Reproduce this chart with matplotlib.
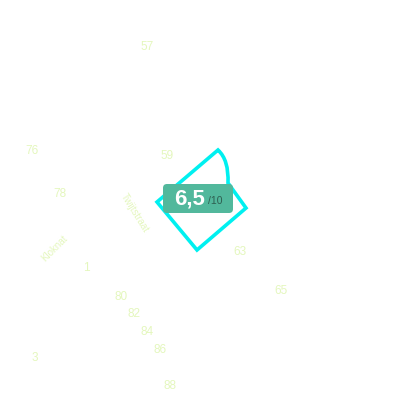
import matplotlib
matplotlib.use("Agg")
import matplotlib.pyplot as plt
from matplotlib.patches import FancyBboxPatch
from matplotlib.path import Path
from matplotlib.patches import PathPatch

# house number labels (text, x, y) in pixel space
numbers = ["57", "76", "78", "59", "63", "65", "80", "82", "84", "86", "88", "3", "1"]
num_x = [147, 32, 60, 167, 240, 281, 121, 134, 147, 160, 170, 35, 86]
num_y = [47, 151, 194, 156, 252, 291, 297, 314, 332, 350, 386, 358, 268]

streets = ["Kloknat", "Twijtstraat"]
street_x = [55, 135]
street_y = [248, 213]
street_rot = [45, -58]

# parcel outline
parcel_x = [157, 218, 229, 228, 246, 197, 157]
parcel_y = [202, 150, 160, 183, 208, 250, 202]

score = "6,5"
score_max = "/10"

FONT = ["Liberation Sans", "DejaVu Sans"]

fig = plt.figure(figsize=(4, 4), dpi=100)
ax = fig.add_axes([0, 0, 1, 1])
ax.set_xlim(0, 400)
ax.set_ylim(400, 0)
ax.axis("off")

label_color = "#e4f7bd"
for t, x, y in zip(numbers, num_x, num_y):
    ax.text(x, y, t, color=label_color, fontsize=8.5, ha="center", va="center",
            family=FONT)
for t, x, y, r in zip(streets, street_x, street_y, street_rot):
    ax.text(x, y, t, color=label_color, fontsize=7, ha="center", va="center",
            rotation=r, family=FONT)

verts = [(parcel_x[0], parcel_y[0]), (parcel_x[1], parcel_y[1]),
         (parcel_x[2], parcel_y[2]), (parcel_x[3], parcel_y[3]),
         (parcel_x[4], parcel_y[4]), (parcel_x[5], parcel_y[5]),
         (parcel_x[6], parcel_y[6])]
codes = [Path.MOVETO, Path.LINETO, Path.CURVE3, Path.CURVE3,
         Path.LINETO, Path.LINETO, Path.CLOSEPOLY]
ax.add_patch(PathPatch(Path(verts, codes), fill=False, edgecolor="#00f0f0",
                       linewidth=2.6, joinstyle="miter"))

badge = FancyBboxPatch((167, 188), 62, 21, boxstyle="round,pad=4,rounding_size=4",
                       facecolor="#52b89c", edgecolor="none")
ax.add_patch(badge)
ax.text(205, 199, score, color="white", fontsize=16, fontweight="bold",
        ha="right", va="center", family=FONT)
ax.text(208, 201, score_max, color="#2e5e50", fontsize=7.5,
        ha="left", va="center", family=FONT)

fig.savefig("out.png", dpi=100)
